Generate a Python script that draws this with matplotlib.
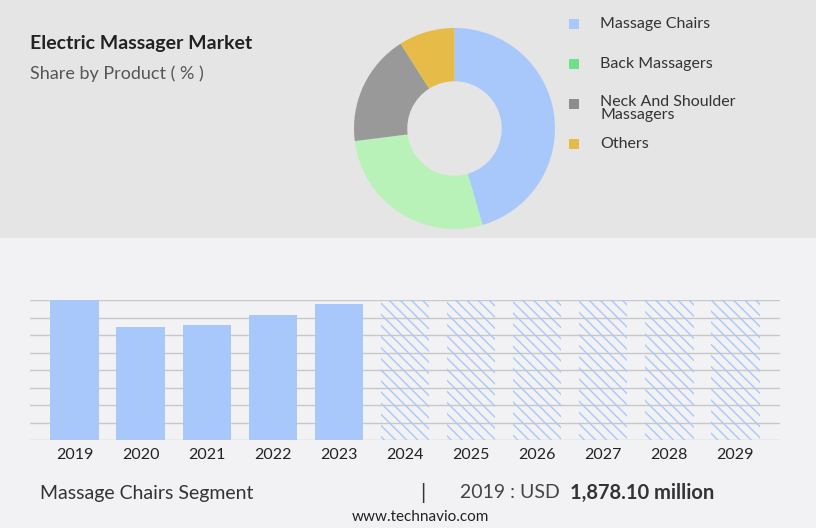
import matplotlib
matplotlib.use("Agg")
import matplotlib.pyplot as plt
from matplotlib.patches import Rectangle

products = ["Massage Chairs", "Back Massagers", "Neck And Shoulder\nMassagers", "Others"]
shares = [45.5, 27.5, 18.0, 9.0]
pie_colors = ["#a8c8fc", "#b8f2b8", "#999999", "#e6bb48"]
legend_colors = ["#a8c8fc", "#6ee08a", "#8c8c8c", "#e6bb48"]

years = ["2019", "2020", "2021", "2022", "2023", "2024", "2025", "2026", "2027", "2028", "2029"]
values = [1878.1, 1516, 1543, 1677, 1825, 1878.1, 1878.1, 1878.1, 1878.1, 1878.1, 1878.1]
n_actual = 5

plt.rcParams["hatch.color"] = "#a8c8fc"
plt.rcParams["hatch.linewidth"] = 1.0

fig = plt.figure(figsize=(8.16, 5.28), dpi=100)
fig.patch.set_facecolor("#f2f2f4")
fig.add_artist(Rectangle((0, 1 - 238/528), 1, 238/528, transform=fig.transFigure,
                         facecolor="#e5e5e5", edgecolor="none", zorder=0))

fig.text(30/816, 1 - 43/528, "Electric Massager Market", fontsize=14, fontweight="bold",
         color="#222222", va="center", family="Lato")
fig.text(30/816, 1 - 74/528, "Share by Product ( % )", fontsize=13, color="#555555",
         va="center", family="Lato")

# donut
axp = fig.add_axes([354/816, 1 - 229/528, 201/816, 201/528])
axp.pie(shares, colors=pie_colors, startangle=90, counterclock=False, radius=1.0,
        wedgeprops=dict(width=0.53, edgecolor="none"))
axp.set_xlim(-1, 1)
axp.set_ylim(-1, 1)
axp.set_aspect("equal")
axp.axis("off")

ly = [24, 64, 104, 144]
for lab, c, y in zip(products, legend_colors, ly):
    fig.add_artist(Rectangle((569/816, 1 - (y + 5)/528), 10/816, 10/528,
                             transform=fig.transFigure, facecolor=c, edgecolor="none"))
    if "\n" in lab:
        fig.text(600/816, 1 - (y - 9)/528, lab, fontsize=11.5, color="#333333", va="top",
                 family="Lato", linespacing=0.9)
    else:
        fig.text(600/816, 1 - y/528, lab, fontsize=11.5, color="#333333", va="center",
                 family="Lato")

# bars
ax = fig.add_axes([30/816, 1 - 440/528, 750/816, 140/528])
ax.set_facecolor("none")
x = range(len(years))
for i, (yr, v) in enumerate(zip(years, values)):
    if i < n_actual:
        ax.bar(i, v, width=0.74, color="#a8c8fc", zorder=3)
    else:
        ax.bar(i, v, width=0.74, facecolor="none", edgecolor="#a8c8fc", hatch="\\\\\\",
               linewidth=0, zorder=3)
ax.set_ylim(0, 1878.1)
ax.set_xlim(-0.68, 10.68)
ax.set_yticks([1878.1 * k / 8 for k in range(9)])
ax.yaxis.grid(True, color="#c8c8c8", linewidth=1, zorder=0)
ax.set_yticklabels([])
ax.tick_params(length=0, pad=6)
ax.set_xticks(list(x))
ax.set_xticklabels(years, fontsize=11.5, color="#222222", family="Lato")
for s in ax.spines.values():
    s.set_visible(False)

fig.text(40/816, 1 - 493/528, "Massage Chairs Segment", fontsize=14, color="#333333",
         va="center", family="Lato")
fig.text(420/816, 1 - 493/528, "|", fontsize=15, color="#333333", va="center", family="Lato")
fig.text(460/816, 1 - 493/528, "2019 : USD", fontsize=14, color="#444444", va="center", family="Lato")
fig.text(570/816, 1 - 493/528, "1,878.10 million", fontsize=14.5, color="#333333",
         fontweight="bold", va="center", family="Lato")
fig.text(420/816, 1 - 517/528, "www.technavio.com", fontsize=11, color="#222222",
         ha="center", va="center", family="Lato")

fig.savefig("out.png", dpi=100, facecolor=fig.get_facecolor())
